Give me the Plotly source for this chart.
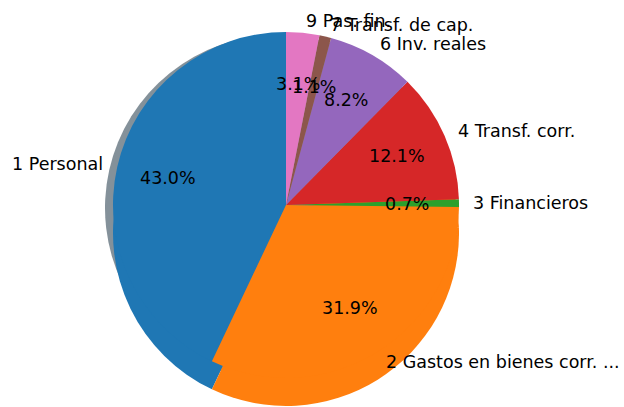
import math
import plotly.graph_objects as go

labels = ["1 Personal", "2 Gastos en bienes corr. ...", "3 Financieros", "4 Transf. corr.",
          "6 Inv. reales", "7 Transf. de cap.", "9 Pas. fin."]
shares = [43.0, 31.9, 0.7, 12.1, 8.2, 1.1, 3.1]
colors = ["#1f77b4", "#ff7f0e", "#2ca02c", "#d62728", "#9467bd", "#8c564b", "#e377c2"]

W, H = 624, 407
CX, CY, R = 286, 205, 173  # pie centre / radius in pixels
FONT = "DejaVu Sans"
FS = 17.5
LABEL_DIST = 1.07
PCT_DIST = 0.7


def shadow(c):
    r, g, b = int(c[1:3], 16), int(c[3:5], 16), int(c[5:7], 16)
    return f"rgba({int(0.3*r)},{int(0.3*g)},{int(0.3*b)},0.5)"


total = sum(shares)
# plotly's counterclockwise mode places the first slice clockwise of 12 o'clock;
# rotate so that the first slice starts at 12 o'clock (matplotlib startangle=90)
rot = -360 * shares[0] / total

dom_x = [(CX - R) / W, (CX + R) / W]
dom_y = [(H - CY - R) / H, (H - CY + R) / H]


def pie(cols, dx=0, dy=0, hover=True):
    return go.Pie(
        values=shares, labels=labels, sort=False, direction="counterclockwise", rotation=rot,
        marker=dict(colors=cols, line=dict(width=0)),
        textinfo="none", hoverinfo=None if hover else "skip", showlegend=False,
        domain=dict(x=[dom_x[0] + dx / W, dom_x[1] + dx / W], y=[dom_y[0] - dy / H, dom_y[1] - dy / H]),
    )


# lower, smeared copy of the large wedges seen in the reference rendering
smear_cols = [colors[0], colors[1], colors[1], colors[1]] + ["rgba(0,0,0,0)"] * 3

fig = go.Figure()
fig.add_trace(pie([shadow(c) for c in colors], dx=-8, dy=3, hover=False))  # drop shadow
fig.add_trace(pie(smear_cols, dy=28, hover=False))
fig.add_trace(pie(colors))  # main pie

annotations = []
cum = 0.0
for lab, v in zip(labels, shares):
    mid = math.radians(90 + 360 * (cum + v / 2) / total)
    cum += v
    x, y = math.cos(mid), math.sin(mid)
    annotations.append(dict(x=PCT_DIST * x, y=PCT_DIST * y, xref="x", yref="y",
                            text=f"{100 * v / total:.1f}%", showarrow=False,
                            xanchor="center", yanchor="middle",
                            font=dict(family=FONT, size=FS, color="black")))
    annotations.append(dict(x=LABEL_DIST * x, y=LABEL_DIST * y, xref="x", yref="y", text=lab,
                            showarrow=False, xanchor="left" if x > 0 else "right", yanchor="middle",
                            font=dict(family=FONT, size=FS, color="black")))

fig.update_layout(
    width=W, height=H, margin=dict(l=0, r=0, t=0, b=0),
    paper_bgcolor="white", plot_bgcolor="rgba(0,0,0,0)",
    xaxis=dict(range=[-CX / R, (W - CX) / R], visible=False, fixedrange=True),
    yaxis=dict(range=[-(H - CY) / R, CY / R], visible=False, fixedrange=True),
    annotations=annotations,
)
fig.write_html("out.html", config={"displayModeBar": False},
               post_script="document.body.style.margin='0';")
